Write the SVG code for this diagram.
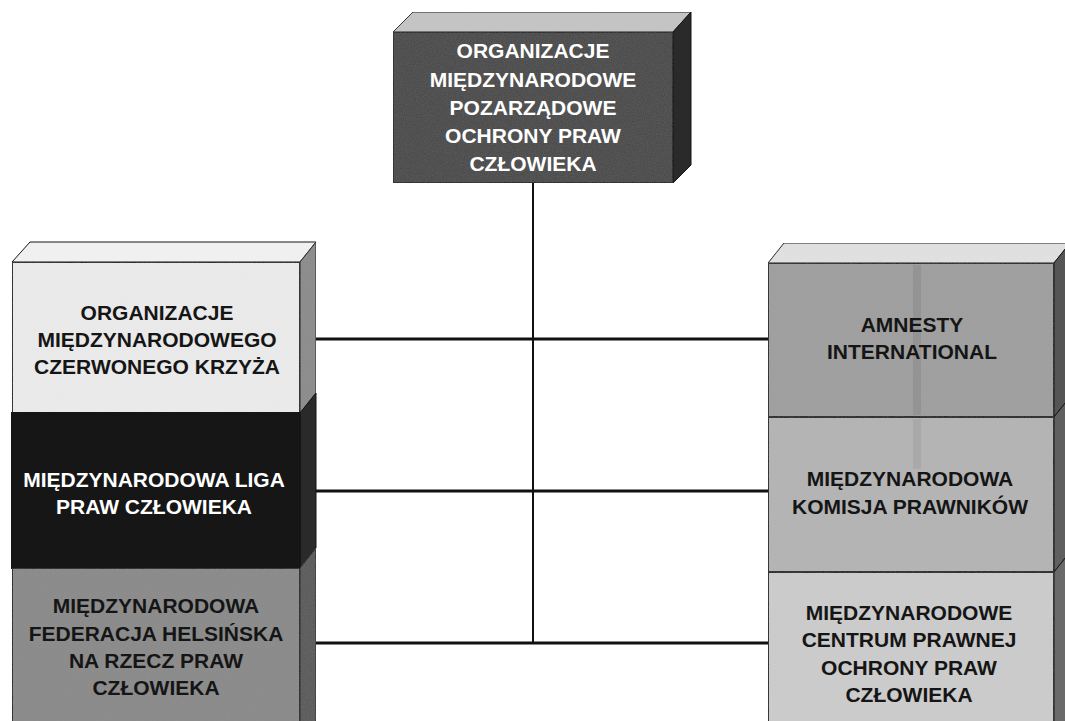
<svg xmlns="http://www.w3.org/2000/svg" width="1065" height="721" viewBox="0 0 1065 721">
<style>
.t{font-family:"Liberation Sans",Arial,sans-serif;font-weight:bold;font-size:21px;text-anchor:middle}
.w{fill:#ffffff}
.k{fill:#151515}
.front{stroke:#151515;stroke-width:2}
.edge{stroke:#151515;stroke-width:1}
.conn{stroke:#111;fill:none}
</style>
<defs>
<filter id="grain" x="0" y="0" width="100%" height="100%">
<feTurbulence type="fractalNoise" baseFrequency="0.9" numOctaves="2" seed="3" result="n"/>
<feColorMatrix in="n" type="matrix" values="0 0 0 0 0.5  0 0 0 0 0.5  0 0 0 0 0.5  0 0 0 0.12 0" result="g"/>
<feComposite in="g" in2="SourceGraphic" operator="atop"/>
</filter>
</defs>
<rect width="1065" height="721" fill="#ffffff"/>

<g id="top-node">
<polygon points="393,32 413,12 691,12 673,32" fill="#c4c4c4" class="edge" filter="url(#grain)"/>
<polygon points="673,32 691,12 691,165 673,183" fill="#2a2a2a" class="edge"/>
<rect x="393" y="32" width="280" height="151" fill="#434343" class="front" filter="url(#grain)"/>
<text class="t w"><tspan x="533" y="58">ORGANIZACJE</tspan><tspan x="533" y="87">MIĘDZYNARODOWE</tspan><tspan x="533" y="115">POZARZĄDOWE</tspan><tspan x="533" y="143">OCHRONY PRAW</tspan><tspan x="533" y="171">CZŁOWIEKA</tspan></text>
</g>

<g id="connectors">
<line class="conn" x1="533" y1="183" x2="533" y2="643" stroke-width="2"/>
<line class="conn" x1="300" y1="339" x2="768" y2="339" stroke-width="3"/>
<line class="conn" x1="300" y1="491" x2="768" y2="491" stroke-width="3"/>
<line class="conn" x1="300" y1="643" x2="768" y2="643" stroke-width="3"/>
</g>

<g id="left-top-face">
<polygon points="12,262 30,242 316,242 300,262" fill="#f0f0f0" class="edge"/>
</g>

<g id="node-czerwony-krzyz">
<polygon points="300,262 316,242 316,393 300,413" fill="#8a8a8a" class="edge" filter="url(#grain)"/>
<rect x="12" y="262" width="288" height="151" fill="#ececec" class="front" filter="url(#grain)"/>
<text class="t k"><tspan x="157" y="320">ORGANIZACJE</tspan><tspan x="157" y="347">MIĘDZYNARODOWEGO</tspan><tspan x="157" y="374">CZERWONEGO KRZYŻA</tspan></text>
</g>

<g id="node-liga">
<polygon points="300,413 316,393 316,548 300,568" fill="#2a2a2a" class="edge"/>
<rect x="12" y="413" width="288" height="155" fill="#161616" class="front"/>
<text class="t w"><tspan x="154" y="487">MIĘDZYNARODOWA LIGA</tspan><tspan x="154" y="514">PRAW CZŁOWIEKA</tspan></text>
</g>

<g id="node-helsinska">
<polygon points="300,568 316,548 316,722 300,722" fill="#555555" class="edge" filter="url(#grain)"/>
<rect x="12" y="568" width="288" height="156" fill="#888888" class="front" filter="url(#grain)"/>
<text class="t k"><tspan x="156" y="613">MIĘDZYNARODOWA</tspan><tspan x="156" y="641">FEDERACJA HELSIŃSKA</tspan><tspan x="156" y="668">NA RZECZ PRAW</tspan><tspan x="156" y="695">CZŁOWIEKA</tspan></text>
</g>

<g id="right-top-face">
<polygon points="768,263 784,243 1070,243 1054,263" fill="#e2e2e2" class="edge" filter="url(#grain)"/>
</g>

<g id="node-amnesty">
<polygon points="1054,263 1070,243 1070,397 1054,417" fill="#555555" class="edge"/>
<rect x="768" y="263" width="286" height="154" fill="#9e9e9e" class="front" filter="url(#grain)"/>
<rect x="913" y="265" width="8" height="150" fill="#000" opacity="0.07"/>
<text class="t k"><tspan x="912" y="332">AMNESTY</tspan><tspan x="912" y="359">INTERNATIONAL</tspan></text>
</g>

<g id="node-komisja">
<polygon points="1054,417 1070,397 1070,552 1054,572" fill="#606060" class="edge"/>
<rect x="768" y="417" width="286" height="155" fill="#b4b4b4" class="front" filter="url(#grain)"/>
<rect x="913" y="419" width="8" height="50" fill="#000" opacity="0.06"/>
<text class="t k"><tspan x="910" y="486">MIĘDZYNARODOWA</tspan><tspan x="910" y="514">KOMISJA PRAWNIKÓW</tspan></text>
</g>

<g id="node-centrum">
<polygon points="1054,572 1070,552 1070,722 1054,722" fill="#6a6a6a" class="edge"/>
<rect x="768" y="572" width="286" height="152" fill="#cccccc" class="front" filter="url(#grain)"/>
<text class="t k"><tspan x="909" y="620">MIĘDZYNARODOWE</tspan><tspan x="909" y="647">CENTRUM PRAWNEJ</tspan><tspan x="909" y="675">OCHRONY PRAW</tspan><tspan x="909" y="702">CZŁOWIEKA</tspan></text>
</g>
</svg>
